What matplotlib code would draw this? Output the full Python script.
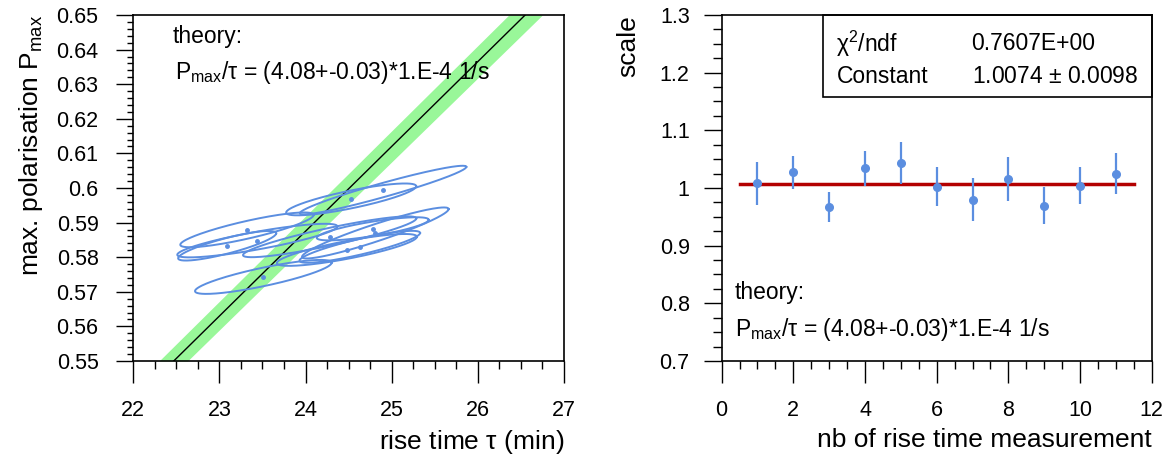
import numpy as np
import matplotlib.pyplot as plt
from matplotlib.ticker import MultipleLocator

plt.rcParams['font.family'] = ['Liberation Sans', 'DejaVu Sans']

# rise time measurements (error ellipses in tau / P_max)
tau_c = [24.90, 24.53, 23.32, 23.44, 23.09, 23.51, 24.28, 24.48, 24.81, 24.78, 24.63]
p_c = [0.5994, 0.5967, 0.5879, 0.5848, 0.5833, 0.5743, 0.5859, 0.5821, 0.5870, 0.5882, 0.5830]
tau_a = [0.967, 0.755, 0.774, 0.929, 0.569, 0.793, 1.006, 0.813, 0.851, 0.650, 0.70]
p_a = [0.0067, 0.0038, 0.0043, 0.0041, 0.0036, 0.0041, 0.0053, 0.0038, 0.0069, 0.0026, 0.0040]
p_b = [0.0021, 0.0026, 0.0026, 0.0026, 0.0023, 0.0027, 0.0026, 0.0026, 0.0026, 0.0021, 0.0023]

# theory line and band
theory_p = [0.55, 0.65]
theory_tau = [22.47, 26.55]
band_lo = [22.30, 26.36]
band_hi = [22.63, 26.75]

# scale per measurement
meas = [1, 2, 3, 4, 5, 6, 7, 8, 9, 10, 11]
scale = [1.008, 1.027, 0.967, 1.034, 1.043, 1.002, 0.980, 1.015, 0.969, 1.004, 1.025]
scale_err = [0.037, 0.028, 0.026, 0.030, 0.036, 0.034, 0.038, 0.038, 0.032, 0.032, 0.036]
fit_const = 1.0074
fit_range = [0.5, 11.5]

blue = '#5b8ee0'
fs_tick = 15.5
fs_lab = 19
fs_txt = 16.5

fig = plt.figure(figsize=(11.7, 4.57), dpi=100)
ax1 = fig.add_axes([0.1139, 0.2101, 0.3681, 0.7571])
ax2 = fig.add_axes([0.6168, 0.2101, 0.3676, 0.7571])

# left panel
ax1.fill_betweenx(theory_p, band_lo, band_hi, color='#99f799', lw=0, zorder=1)
ax1.plot(theory_tau, theory_p, color='black', lw=1, zorder=2)
t = np.linspace(0, 2 * np.pi, 200)
for i in range(len(tau_c)):
    x = tau_c[i] + tau_a[i] * np.cos(t)
    y = p_c[i] + p_a[i] * np.cos(t) + p_b[i] * np.sin(t)
    ax1.plot(x, y, color=blue, lw=1.4, zorder=3)
ax1.plot(tau_c, p_c, 'o', color=blue, ms=2.5, zorder=4)
ax1.set_xlim(22, 27)
ax1.set_ylim(0.55, 0.65)
ax1.xaxis.set_major_locator(MultipleLocator(1))
ax1.xaxis.set_minor_locator(MultipleLocator(0.25))
ax1.yaxis.set_minor_locator(MultipleLocator(0.002))
ax1.set_yticks(np.round(np.arange(0.55, 0.6501, 0.01), 2))
ax1.set_yticklabels(['0.55', '0.56', '0.57', '0.58', '0.59', '0.6', '0.61', '0.62', '0.63', '0.64', '0.65'])
ax1.set_xlabel(r'rise time $\mathregular{\tau}$ (min)', fontsize=fs_lab, loc='right', labelpad=5)
ax1.set_ylabel(r'max. polarisation P$_{\mathregular{max}}$', fontsize=fs_lab, loc='top', labelpad=8)
ax1.text(0.092, 0.937, 'theory:', transform=ax1.transAxes, fontsize=fs_txt, va='center')
ax1.text(0.097, 0.835, r'P$_{\mathregular{max}}$/$\mathregular{\tau}$ = (4.08+-0.03)*1.E-4 1/s',
         transform=ax1.transAxes, fontsize=fs_txt, va='center')

# right panel
ax2.errorbar(meas, scale, yerr=scale_err, fmt='o', color=blue, ms=5.5, elinewidth=1.6, capsize=0, zorder=3)
ax2.plot(fit_range, [fit_const, fit_const], color='#b30000', lw=2.5, zorder=2)
ax2.set_xlim(0, 12)
ax2.set_ylim(0.7, 1.3)
ax2.xaxis.set_major_locator(MultipleLocator(2))
ax2.xaxis.set_minor_locator(MultipleLocator(0.5))
ax2.yaxis.set_minor_locator(MultipleLocator(0.025))
ax2.set_yticks(np.round(np.arange(0.7, 1.301, 0.1), 1))
ax2.set_yticklabels(['0.7', '0.8', '0.9', '1', '1.1', '1.2', '1.3'])
ax2.set_xlabel('nb of rise time measurement', fontsize=fs_lab, loc='right', labelpad=5)
ax2.set_ylabel('scale', fontsize=fs_lab, loc='top', labelpad=14)
ax2.text(0.031, 0.197, 'theory:', transform=ax2.transAxes, fontsize=fs_txt, va='center')
ax2.text(0.031, 0.092, r'P$_{\mathregular{max}}$/$\mathregular{\tau}$ = (4.08+-0.03)*1.E-4 1/s',
         transform=ax2.transAxes, fontsize=fs_txt, va='center')

# stats box
box = plt.Rectangle((0.2356, 0.763), 0.7644, 0.237, transform=ax2.transAxes, fill=False,
                    lw=1.2, ec='black', clip_on=False, zorder=5)
ax2.add_patch(box)
ax2.text(0.267, 0.917, r'$\mathregular{\chi^2}$/ndf', transform=ax2.transAxes, fontsize=fs_txt, va='center')
ax2.text(0.581, 0.917, '0.7607E+00', transform=ax2.transAxes, fontsize=fs_txt, va='center')
ax2.text(0.267, 0.821, 'Constant', transform=ax2.transAxes, fontsize=fs_txt, va='center')
ax2.text(0.581, 0.821, r'1.0074 $\mathregular{\pm}$ 0.0098', transform=ax2.transAxes, fontsize=fs_txt, va='center')

for ax in (ax1, ax2):
    for s in ax.spines.values():
        s.set_linewidth(1.2)
    ax.tick_params(axis='both', which='both', direction='out', top=False, right=False, labelsize=fs_tick)
    ax.tick_params(axis='x', which='major', length=16, width=1, pad=12)
    ax.tick_params(axis='x', which='minor', length=6, width=1)
ax1.tick_params(axis='y', which='major', length=12, width=1, pad=13)
ax1.tick_params(axis='y', which='minor', length=4, width=1)
ax2.tick_params(axis='y', which='major', length=13, width=1, pad=10)
ax2.tick_params(axis='y', which='minor', length=6.5, width=1)

fig.savefig('out.png', dpi=100)
